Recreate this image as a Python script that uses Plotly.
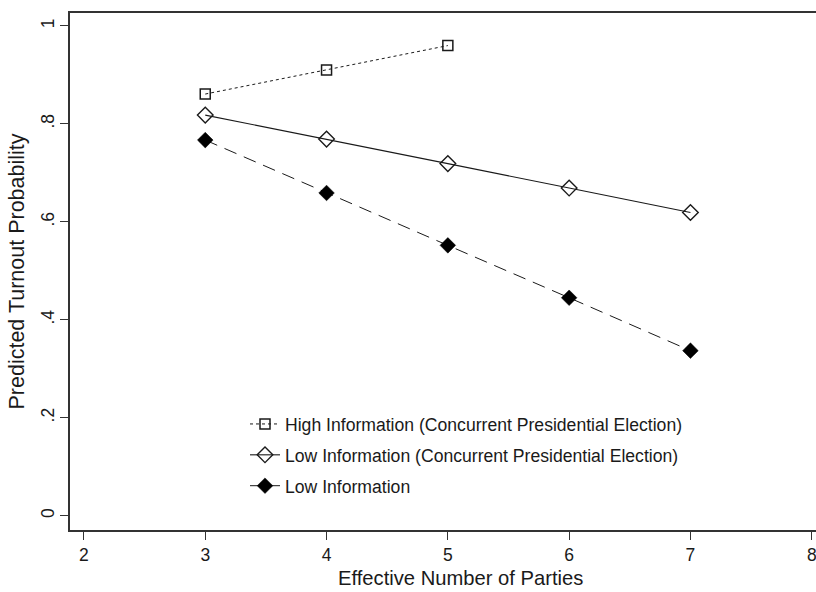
import plotly.graph_objects as go

# Data
parties = [3, 4, 5, 6, 7]
parties_high = [3, 4, 5]
high_info_concurrent = [0.861, 0.910, 0.960]
low_info_concurrent = [0.818, 0.769, 0.719, 0.669, 0.619]
low_info = [0.767, 0.659, 0.552, 0.445, 0.337]

x_ticks = [2, 3, 4, 5, 6, 7, 8]
y_ticks = [0, 0.2, 0.4, 0.6, 0.8, 1.0]
y_tick_labels = ["0", ".2", ".4", ".6", ".8", "1"]

names = [
    "High Information (Concurrent Presidential Election)",
    "Low Information (Concurrent Presidential Election)",
    "Low Information",
]
x_title = "Effective Number of Parties"
y_title = "Predicted Turnout Probability"

FONT = "Liberation Sans, Arial, Helvetica, sans-serif"
INK = "#1a1a1a"

fig = go.Figure()

fig.add_trace(go.Scatter(
    x=parties_high, y=high_info_concurrent, name=names[0], legendgroup="a",
    mode="lines+markers",
    line=dict(color=INK, width=1, dash="3px,3px"),
    marker=dict(symbol="square-open", size=10, color=INK, line=dict(width=1.5, color=INK)),
))
fig.add_trace(go.Scatter(
    x=parties, y=low_info_concurrent, name=names[1], legendgroup="b",
    mode="lines+markers",
    line=dict(color=INK, width=1.1),
    marker=dict(symbol="diamond-open", size=12, color=INK, line=dict(width=1.4, color=INK)),
))
fig.add_trace(go.Scatter(
    x=parties, y=low_info, name=names[2], legendgroup="c",
    mode="lines+markers",
    line=dict(color=INK, width=1, dash="13px,8px"),
    marker=dict(symbol="diamond", size=12, color="black", line=dict(width=0.5, color="black")),
))

PL, PR, PT, PB = 70, 816, 13, 530

fig.update_layout(
    width=816, height=592,
    margin=dict(l=PL, r=816 - PR, t=PT, b=592 - PB),
    paper_bgcolor="white", plot_bgcolor="white",
    font=dict(family=FONT, color=INK, size=17),
    hovermode=False,
    showlegend=True,
    legend=dict(
        x=(245 - PL) / (PR - PL), y=(PB - 406) / (PB - PT), xanchor="left", yanchor="top",
        bgcolor="rgba(0,0,0,0)", font=dict(size=17.6, family=FONT, color=INK),
        tracegroupgap=5, itemwidth=30,
    ),
    annotations=[dict(
        text=x_title, xref="paper", yref="paper",
        x=(460 - PL) / (PR - PL), y=(PB - 578) / (PB - PT),
        xanchor="center", yanchor="middle", showarrow=False,
        font=dict(size=20.2, family=FONT, color=INK),
    )],
)

fig.update_xaxes(
    range=[1.885, 8.035],
    tickvals=x_ticks, ticktext=[str(v) for v in x_ticks],
    ticks="outside", ticklen=8, tickwidth=1.3, tickcolor="#333",
    showline=True, linecolor="#333", linewidth=1.8, mirror=True,
    showgrid=False, zeroline=False,
    tickfont=dict(size=17.5), ticklabeloverflow="allow",
)
fig.update_yaxes(
    range=[-0.0292, 1.0265],
    tickvals=y_ticks, ticktext=y_tick_labels, tickangle=-90,
    ticks="outside", ticklen=8, tickwidth=1.3, tickcolor="#333",
    showline=True, linecolor="#333", linewidth=1.8, mirror=False,
    showgrid=False, zeroline=False,
    tickfont=dict(size=17.5), ticklabelstandoff=-1,
    title=dict(text=y_title, font=dict(size=21.5), standoff=8),
)

fig.write_html(
    "out.html",
    config={"displayModeBar": False},
    post_script="document.body.style.margin='0';document.body.style.overflow='hidden';",
)
